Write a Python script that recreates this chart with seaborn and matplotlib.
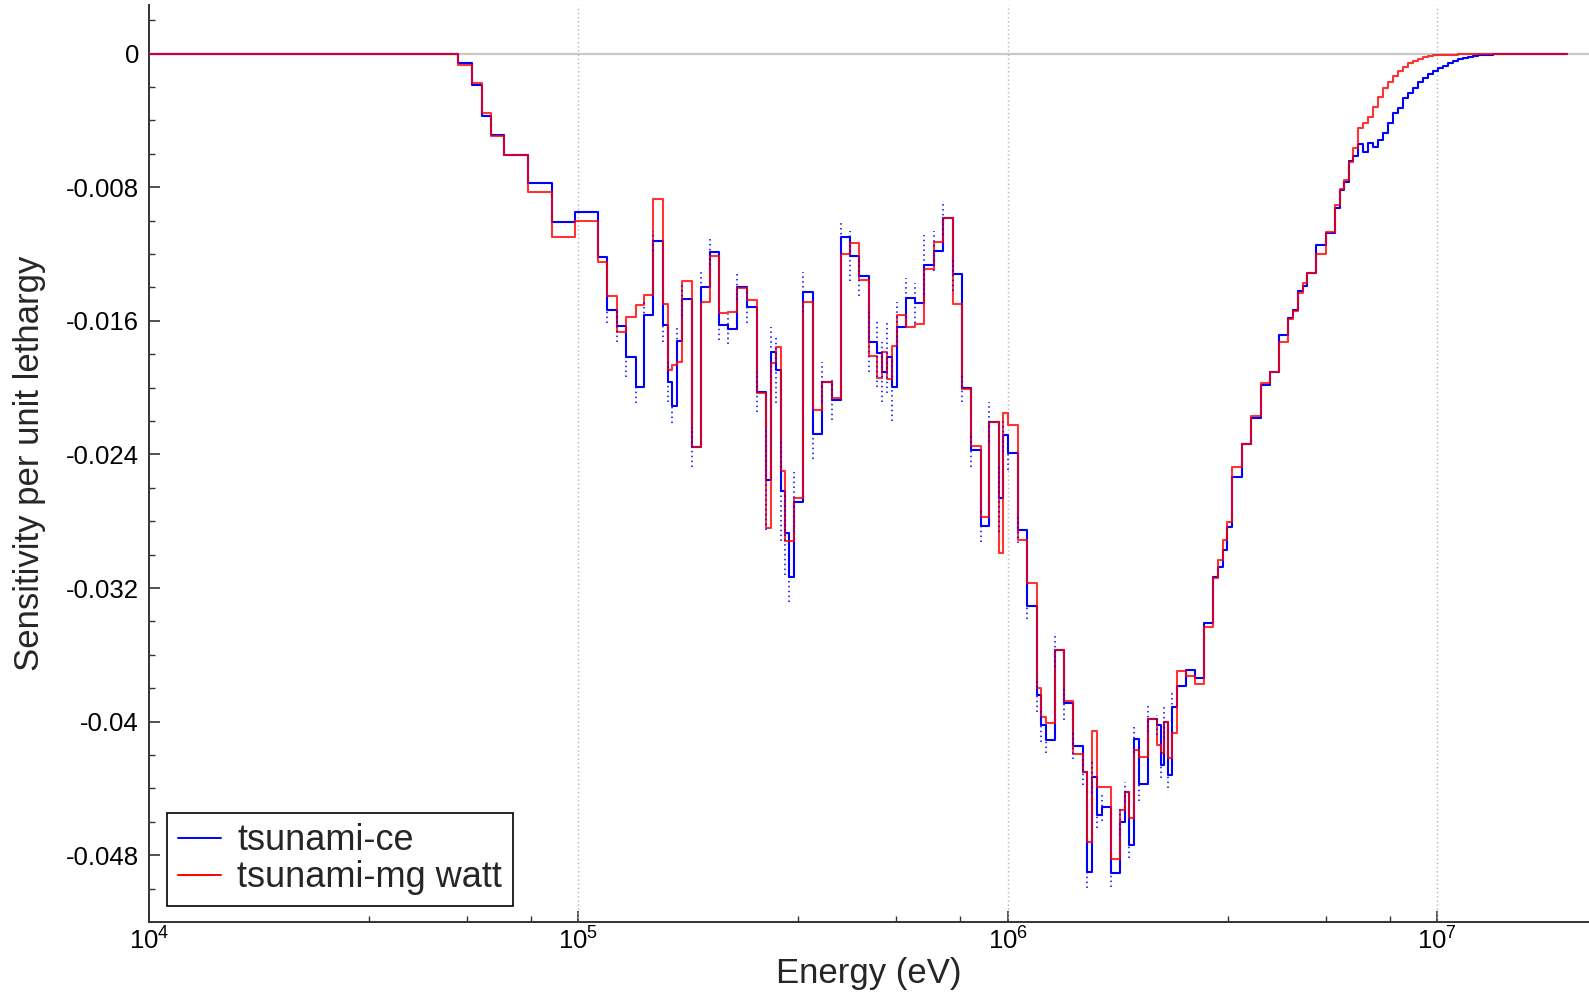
import numpy as np
import pandas as pd
import matplotlib
matplotlib.use("Agg")
import matplotlib.pyplot as plt
import seaborn as sns
from matplotlib.ticker import FixedLocator, FuncFormatter, LogFormatterSciNotation, NullFormatter
from matplotlib.lines import Line2D

# ---------------------------------------------------------------------------
# Group structure (lower bin edges, eV) and sensitivities per unit lethargy
# ---------------------------------------------------------------------------
# below ~5e4 eV and first descent
edges_a = [1.0e4, 5.26e4, 5.67e4, 5.96e4, 6.26e4, 6.73e4, 7.65e4, 8.67e4, 9.82e4]
ce_a = [0.0, -0.00054, -0.00187, -0.00373, -0.00489, -0.00607, -0.00773, -0.01006, -0.00950]
mg_a = [0.0, -0.00068, -0.00174, -0.00353, -0.00493, -0.00607, -0.00830, -0.01096, -0.01002]

# 1.1e5 - 3.1e5 eV
edges_b = [1.113e5, 1.168e5, 1.229e5, 1.291e5, 1.360e5, 1.422e5, 1.495e5, 1.577e5,
           1.620e5, 1.655e5, 1.701e5, 1.741e5, 1.837e5, 1.928e5, 2.026e5, 2.130e5,
           2.235e5, 2.345e5, 2.475e5, 2.602e5, 2.731e5, 2.805e5, 2.882e5, 2.960e5,
           3.029e5, 3.100e5]
ce_b = [-0.01216, -0.01535, -0.01629, -0.01814, -0.01994, -0.01565, -0.01122, -0.01625,
        -0.01964, -0.02110, -0.01720, -0.01471, -0.02353, -0.01395, -0.01186, -0.01625,
        -0.01649, -0.01395, -0.01515, -0.02024, -0.02553, -0.01788, -0.01894, -0.02619,
        -0.02872, -0.03132]
mg_b = [-0.01249, -0.01451, -0.01665, -0.01578, -0.01505, -0.01445, -0.00870, -0.01501,
        -0.01894, -0.01864, -0.01844, -0.01361, -0.02353, -0.01485, -0.01211, -0.01555,
        -0.01545, -0.01405, -0.01475, -0.02034, -0.02842, -0.01850, -0.01755, -0.02499,
        -0.02918, -0.02918]
err_b = [0.0, 0.0008, 0.0010, 0.0012, 0.0010, 0.0008, 0.0006, 0.0010,
         0.0012, 0.0010, 0.0008, 0.0010, 0.0012, 0.0010, 0.0008, 0.0009,
         0.0009, 0.0008, 0.0010, 0.0012, 0.0030, 0.0015, 0.0020, 0.0030,
         0.0025, 0.0015]

# 3.2e5 - 9.7e5 eV
edges_c = [3.179e5, 3.341e5, 3.513e5, 3.699e5, 3.890e5, 4.083e5, 4.292e5, 4.511e5,
           4.745e5, 4.968e5, 5.086e5, 5.224e5, 5.367e5, 5.512e5, 5.785e5, 6.080e5,
           6.392e5, 6.733e5, 7.076e5, 7.442e5, 7.810e5, 8.209e5, 8.641e5, 9.056e5,
           9.554e5, 9.745e5]
ce_c = [-0.02683, -0.01425, -0.02279, -0.01968, -0.02074, -0.01099, -0.01210, -0.01329,
        -0.01728, -0.01794, -0.01908, -0.01814, -0.01998, -0.01635, -0.01465, -0.01495,
        -0.01265, -0.01180, -0.00986, -0.01321, -0.02004, -0.02373, -0.02826, -0.02204,
        -0.02662, -0.02283]
mg_c = [-0.02662, -0.01485, -0.02134, -0.01968, -0.02064, -0.01199, -0.01132, -0.01355,
        -0.01808, -0.01944, -0.01784, -0.01950, -0.01750, -0.01565, -0.01635, -0.01619,
        -0.01291, -0.01126, -0.00986, -0.01501, -0.02008, -0.02347, -0.02772, -0.02204,
        -0.02992, -0.02153]
err_c = [0.0018, 0.0012, 0.0015, 0.0012, 0.0012, 0.0010, 0.0015, 0.0012,
         0.0018, 0.0020, 0.0018, 0.0022, 0.0020, 0.0015, 0.0012, 0.0012,
         0.0018, 0.0012, 0.0010, 0.0010, 0.0008, 0.0010, 0.0010, 0.0012,
         0.0020, 0.0010]

# 1.0e6 - 3.3e6 eV
edges_d = [1.003e6, 1.054e6, 1.110e6, 1.168e6, 1.195e6, 1.226e6, 1.288e6, 1.354e6,
           1.421e6, 1.494e6, 1.526e6, 1.573e6, 1.611e6, 1.654e6, 1.739e6, 1.828e6,
           1.875e6, 1.918e6, 1.967e6, 2.021e6, 2.124e6, 2.229e6, 2.273e6, 2.314e6,
           2.357e6, 2.415e6, 2.473e6, 2.595e6, 2.729e6, 2.868e6, 3.009e6, 3.091e6,
           3.165e6, 3.244e6, 3.332e6]
ce_d = [-0.02393, -0.02852, -0.03307, -0.03840, -0.04020, -0.04110, -0.03571, -0.03890,
        -0.04144, -0.04299, -0.04898, -0.04329, -0.04559, -0.04513, -0.04908, -0.04599,
        -0.04419, -0.04738, -0.04105, -0.04375, -0.03984, -0.04020, -0.04259, -0.04000,
        -0.04319, -0.03914, -0.03784, -0.03690, -0.03740, -0.03411, -0.03132, -0.03074,
        -0.02972, -0.02832, -0.02535]
mg_d = [-0.02223, -0.02912, -0.03168, -0.03800, -0.03970, -0.04010, -0.03571, -0.03876,
        -0.04193, -0.04299, -0.04719, -0.04054, -0.04393, -0.04393, -0.04822, -0.04529,
        -0.04419, -0.04578, -0.04170, -0.04213, -0.03984, -0.04140, -0.04189, -0.04000,
        -0.04219, -0.04066, -0.03696, -0.03726, -0.03776, -0.03435, -0.03141, -0.03032,
        -0.02912, -0.02802, -0.02473]
err_d = [0.0010, 0.0008, 0.0008, 0.0010, 0.0010, 0.0008, 0.0010, 0.0010,
         0.0008, 0.0008, 0.0010, 0.0010, 0.0008, 0.0008, 0.0008, 0.0008,
         0.0006, 0.0008, 0.0008, 0.0010, 0.0008, 0.0006, 0.0008, 0.0010,
         0.0008, 0.0010, 0.0, 0.0, 0.0, 0.0, 0.0, 0.0,
         0.0, 0.0, 0.0]

# 3.5e6 - 6.4e6 eV
edges_e = [3.504e6, 3.685e6, 3.881e6, 4.078e6, 4.286e6, 4.498e6, 4.620e6, 4.730e6,
           4.859e6, 4.964e6, 5.219e6, 5.499e6, 5.780e6, 5.936e6, 6.074e6, 6.240e6,
           6.375e6]
ce_e = [-0.02340, -0.02179, -0.01984, -0.01909, -0.01687, -0.01583, -0.01533, -0.01423,
        -0.01389, -0.01313, -0.01148, -0.01075, -0.00923, -0.00816, -0.00770, -0.00644,
        -0.00610]
mg_e = [-0.02335, -0.02168, -0.01973, -0.01909, -0.01726, -0.01588, -0.01538, -0.01435,
        -0.01373, -0.01313, -0.01198, -0.01068, -0.00907, -0.00809, -0.00754, -0.00651,
        -0.00564]

# 6.5e6 - 2e7 eV (fine high-energy groups)
edges_f = [6.547e6, 6.725e6, 6.908e6, 7.095e6, 7.288e6, 7.486e6, 7.690e6, 7.899e6,
           8.114e6, 8.334e6, 8.561e6, 8.794e6, 9.033e6, 9.278e6, 9.530e6, 9.788e6,
           1.0054e7, 1.0327e7, 1.0608e7, 1.0896e7, 1.1192e7, 1.1497e7, 1.1809e7,
           1.2130e7, 1.2460e7, 1.2798e7, 1.3146e7, 1.3504e7, 1.3871e7]
ce_f = [-0.00543, -0.00587, -0.00537, -0.00557, -0.00517, -0.00477, -0.00417, -0.00357,
        -0.00327, -0.00267, -0.00237, -0.00207, -0.00168, -0.00147, -0.00122, -0.00102,
        -0.00087, -0.00072, -0.00058, -0.00044, -0.00034, -0.00024, -0.00018,
        -0.00014, -0.00010, -0.00008, -0.00006, -0.00004, -0.00002]
mg_f = [-0.00447, -0.00417, -0.00381, -0.00321, -0.00261, -0.00207, -0.00168, -0.00134,
        -0.00102, -0.00078, -0.00058, -0.00044, -0.00032, -0.00022, -0.00014, -0.00010,
        -0.00008, -0.00007, -0.00006, -0.00005, -0.00004, -0.00003, -0.00002,
        -0.00002, -0.00001, -0.00001, -0.00001, 0.0, 0.0]

E_MAX = 2.0e7

series_labels = ["tsunami-ce", "tsunami-mg watt"]
yticks = [0, -0.008, -0.016, -0.024, -0.032, -0.04, -0.048]

# ---------------------------------------------------------------------------
lower = np.concatenate([edges_a, edges_b, edges_c, edges_d, edges_e, edges_f])
ce = np.concatenate([ce_a, ce_b, ce_c, ce_d, ce_e, ce_f])
mg = np.concatenate([mg_a, mg_b, mg_c, mg_d, mg_e, mg_f])
edges = np.append(lower, E_MAX)

df_ce = pd.DataFrame({"energy": edges, "sens": np.append(ce, ce[-1])})
df_mg = pd.DataFrame({"energy": edges, "sens": np.append(mg, mg[-1])})

sns.set_theme(style="white")
plt.rcParams["font.family"] = ["Liberation Sans", "DejaVu Sans"]
plt.rcParams["axes.unicode_minus"] = False

W, H = 1589, 994
fig = plt.figure(figsize=(W / 100, H / 100), dpi=100)
x0, x1, y_top, y_bot = 148.8, 1589.0, 5.0, 921.7
ax = fig.add_axes([x0 / W, (H - y_bot) / H, (x1 - x0) / W, (y_bot - y_top) / H])
ax.set_xscale("log")

BLUE = "#0000ff"
RED = "#ff0000"

ax.axhline(0, color="#c8c8c8", lw=1.6, zorder=1)
for dec in [1e5, 1e6, 1e7]:
    ax.axvline(dec, color="#b4b4b4", lw=1.0, ls=(0, (1, 2)), zorder=1)

sns.lineplot(data=df_ce, x="energy", y="sens", color=BLUE, lw=1.5,
             drawstyle="steps-post", estimator=None, sort=False, ax=ax, zorder=3)
sns.lineplot(data=df_mg, x="energy", y="sens", color=RED, lw=1.5, alpha=0.8,
             drawstyle="steps-post", estimator=None, sort=False, ax=ax, zorder=4)

# Monte Carlo uncertainty bars on the continuous-energy result
err_x = np.concatenate([edges_b, edges_c, edges_d])
err_v = np.concatenate([ce_b, ce_c, ce_d])
err_s = np.concatenate([err_b, err_c, err_d])
m = err_s > 0
ax.vlines(err_x[m], err_v[m] - err_s[m], err_v[m] + err_s[m], colors=BLUE,
          linestyles=(0, (1, 2.2)), lw=1.1, zorder=5)

# Axes limits and ticks
ax.set_xlim(1e4, 2.2555e7)
ax.set_ylim(-0.05198, 0.002916)

ax.xaxis.set_major_locator(FixedLocator([1e4, 1e5, 1e6, 1e7]))
ax.xaxis.set_major_formatter(LogFormatterSciNotation())
minor_x = [m_ * 10.0 ** n for n in range(4, 8) for m_ in (3.25, 5.5, 7.75)]
ax.xaxis.set_minor_locator(FixedLocator(minor_x))
ax.xaxis.set_minor_formatter(NullFormatter())

ax.yaxis.set_major_locator(FixedLocator(yticks))
ax.yaxis.set_major_formatter(FuncFormatter(lambda v, p: "0" if abs(v) < 1e-12 else f"{v:g}"))
ax.yaxis.set_minor_locator(FixedLocator(np.arange(-0.050, 0.0030, 0.002)))

ax.tick_params(axis="both", which="major", direction="in", length=8, width=1.2,
               color="#333333", labelsize=18.5, labelcolor="black")
ax.tick_params(axis="both", which="minor", direction="in", length=4, width=1.0,
               color="#333333")
ax.tick_params(axis="y", which="major", pad=7)
ax.tick_params(axis="x", which="major", pad=4)
ax.tick_params(left=True, bottom=True, which="both")

for side in ["top", "right"]:
    ax.spines[side].set_visible(False)
for side in ["left", "bottom"]:
    ax.spines[side].set_color("#333333")
    ax.spines[side].set_linewidth(1.4)

ax.set_xlabel("Energy (eV)", fontsize=25)
ax.set_ylabel("Sensitivity per unit lethargy", fontsize=25)
ax.xaxis.set_label_coords(0.5, -0.038)
ax.yaxis.set_label_coords(-0.0714, 0.5)
ax.xaxis.label.set_va("top")

handles = [Line2D([0], [0], color=BLUE, lw=1.4), Line2D([0], [0], color=RED, lw=1.4)]
leg = ax.legend(handles, series_labels, loc="lower left", bbox_to_anchor=(0.0126, 0.0171),
                borderaxespad=0, fontsize=26, frameon=True, fancybox=False,
                edgecolor="black", framealpha=1, handlelength=1.2, handletextpad=0.45,
                borderpad=0.3, labelspacing=0.05)
leg.get_frame().set_linewidth(1.2)

fig.savefig("out.png", dpi=100)
